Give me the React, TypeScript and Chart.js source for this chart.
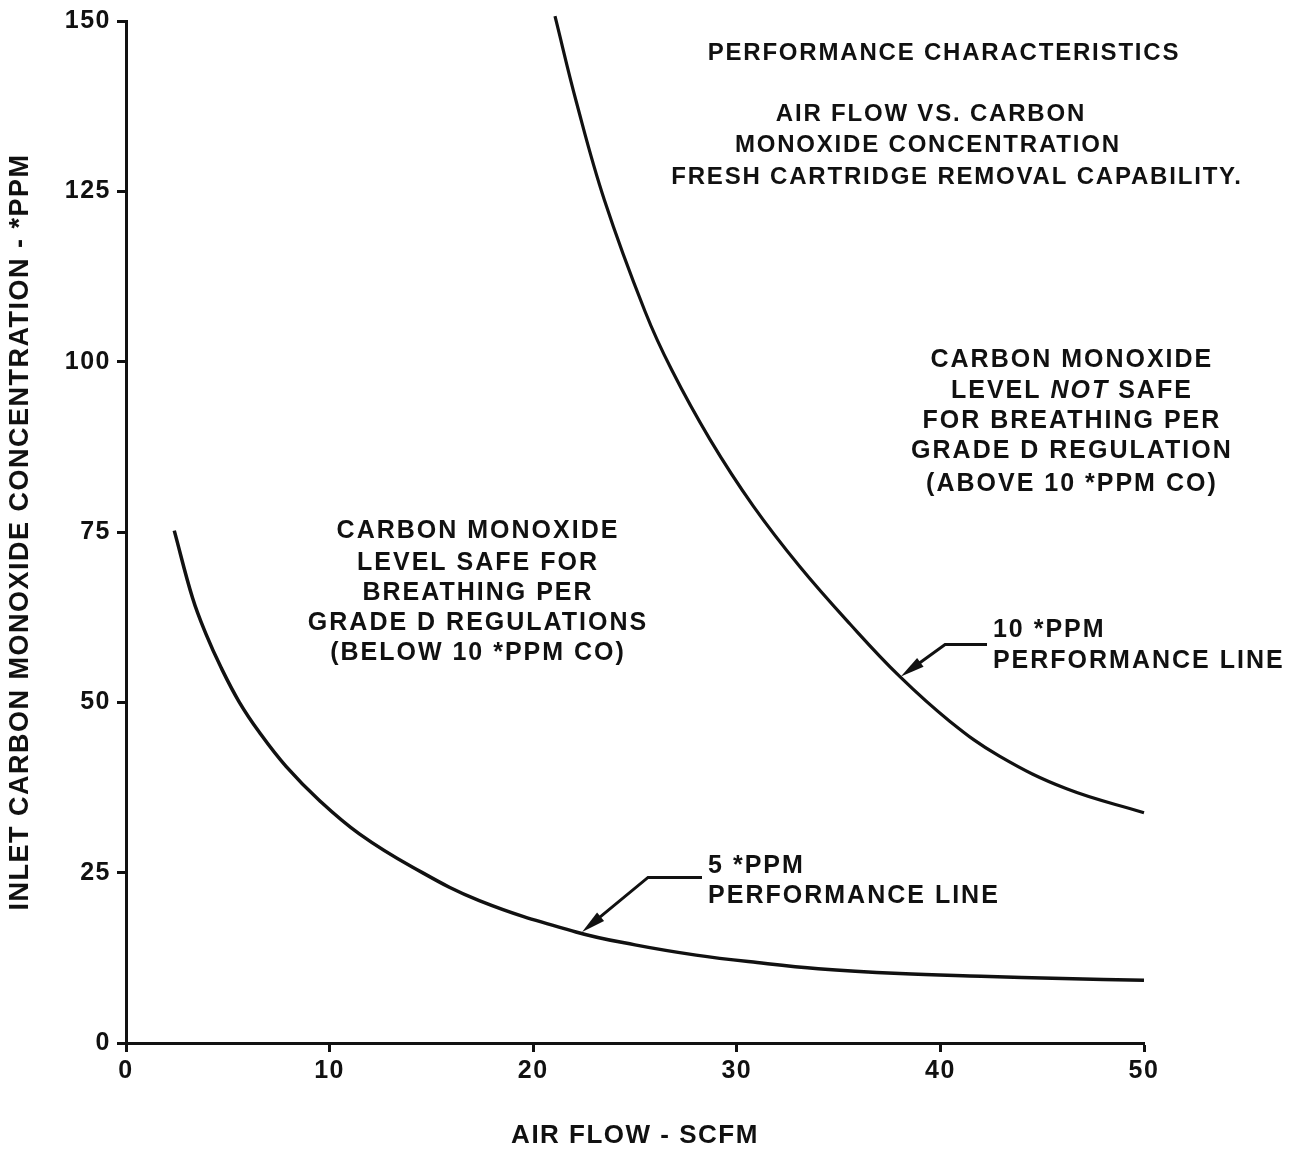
import React, { useEffect, useRef } from 'react';
import { Chart, registerables } from 'chart.js';

Chart.register(...registerables);

// ---- data ----
const xTickStep = 10;
const yTickStep = 25;
const xRange = [0, 50];
const yRange = [0, 150];

const line5ppmX = [2.37, 3.27, 3.93, 4.67, 5.57, 6.55, 7.86, 9.5, 11.46, 14.08, 17.35, 22.1, 25, 28, 31, 34, 38, 42, 46, 50];
const line5ppmY = [75.2, 65.3, 60.0, 55.1, 50.0, 45.6, 40.6, 35.6, 30.7, 25.8, 20.9, 16.3, 14.4, 12.9, 11.8, 10.9, 10.2, 9.8, 9.45, 9.2];

const line10ppmX = [21.07, 22.13, 23.5, 25.49, 26.8, 28.68, 30.81, 33.1, 35.56, 38.0, 40.47, 42.9, 46.2, 50];
const line10ppmY = [150.7, 138.0, 123.7, 107.4, 98.8, 88.6, 78.8, 69.9, 61.5, 53.8, 47.2, 42.1, 37.3, 33.8];

const xTitle = 'AIR FLOW - SCFM';
const yTitle = 'INLET CARBON MONOXIDE CONCENTRATION - *PPM';

// text blocks: lines, centre x / line y in data units; "_" marks italic parts
const titleLines = ['PERFORMANCE CHARACTERISTICS', 'AIR FLOW VS. CARBON', 'MONOXIDE CONCENTRATION', 'FRESH CARTRIDGE REMOVAL CAPABILITY.'];
const titleLineX = [40.13, 39.49, 39.34, 40.77];
const titleLineY = [145.3, 136.25, 131.7, 127.0];

const unsafeLines = ['CARBON MONOXIDE', 'LEVEL _NOT_ SAFE', 'FOR BREATHING PER', 'GRADE D REGULATION', '(ABOVE 10 *PPM CO)'];
const unsafeX = 46.41;
const unsafeLineY = [100.25, 95.7, 91.3, 86.8, 82.1];

const safeLines = ['CARBON MONOXIDE', 'LEVEL SAFE FOR', 'BREATHING PER', 'GRADE D REGULATIONS', '(BELOW 10 *PPM CO)'];
const safeX = 17.24;
const safeLineY = [75.1, 70.5, 66.1, 61.6, 57.2];

const callout5Lines = ['5 *PPM', 'PERFORMANCE LINE'];
const callout5TextX = 28.59;
const callout5TextY = [25.9, 21.5];
const callout5ArrowX = [28.29, 25.64, 22.4];
const callout5ArrowY = [24.3, 24.3, 16.3];

const callout10Lines = ['10 *PPM', 'PERFORMANCE LINE'];
const callout10TextX = 42.58;
const callout10TextY = [60.6, 56.05];
const callout10ArrowX = [42.29, 40.23, 38.06];
const callout10ArrowY = [58.5, 58.5, 53.8];

const INK = '#111111';
const FAMILY = '"Liberation Sans", Arial, Helvetica, sans-serif';

function drawTextLine(ctx: CanvasRenderingContext2D, text: string, x: number, y: number, size: number, spacing: number, align: 'center' | 'left') {
  const parts = text.split('_');
  ctx.save();
  (ctx as any).letterSpacing = spacing + 'px';
  ctx.textAlign = 'left';
  ctx.textBaseline = 'middle';
  ctx.fillStyle = INK;
  const fonts = parts.map((_, i) => `${i % 2 ? 'italic ' : ''}bold ${size}px ${FAMILY}`);
  const widths = parts.map((p, i) => {
    ctx.font = fonts[i];
    return ctx.measureText(p).width;
  });
  const total = widths.reduce((a, b) => a + b, 0) - spacing;
  let cx = align === 'center' ? x - total / 2 : x;
  parts.forEach((p, i) => {
    ctx.font = fonts[i];
    ctx.fillText(p, cx, y);
    cx += widths[i];
  });
  ctx.restore();
}

function drawArrow(ctx: CanvasRenderingContext2D, pts: number[][]) {
  const n = pts.length;
  const [tx, ty] = pts[n - 1];
  const [px, py] = pts[n - 2];
  const dx = tx - px;
  const dy = ty - py;
  const len = Math.hypot(dx, dy);
  const ux = dx / len;
  const uy = dy / len;
  const headLen = 24;
  const headHalf = 5.5;
  const bx = tx - ux * headLen;
  const by = ty - uy * headLen;
  ctx.save();
  ctx.strokeStyle = INK;
  ctx.fillStyle = INK;
  ctx.lineWidth = 3;
  ctx.lineJoin = 'miter';
  ctx.beginPath();
  ctx.moveTo(pts[0][0], pts[0][1]);
  for (let i = 1; i < n - 1; i++) ctx.lineTo(pts[i][0], pts[i][1]);
  ctx.lineTo(bx + ux * 4, by + uy * 4);
  ctx.stroke();
  ctx.beginPath();
  ctx.moveTo(tx, ty);
  ctx.lineTo(bx - uy * headHalf, by + ux * headHalf);
  ctx.lineTo(bx + uy * headHalf, by - ux * headHalf);
  ctx.closePath();
  ctx.fill();
  ctx.restore();
}

const annotationPlugin = {
  id: 'annotations',
  beforeDraw(chart: any) {
    (chart.ctx as any).letterSpacing = '1.5px';
  },
  afterDraw(chart: any) {
    const ctx: CanvasRenderingContext2D = chart.ctx;
    const xs = chart.scales.x;
    const ys = chart.scales.y;
    const px = (v: number) => xs.getPixelForValue(v);
    const py = (v: number) => ys.getPixelForValue(v);

    titleLines.forEach((t, i) => drawTextLine(ctx, t, px(titleLineX[i]), py(titleLineY[i]), 24, 1.8, 'center'));
    unsafeLines.forEach((t, i) => drawTextLine(ctx, t, px(unsafeX), py(unsafeLineY[i]), 25, 2, 'center'));
    safeLines.forEach((t, i) => drawTextLine(ctx, t, px(safeX), py(safeLineY[i]), 25, 2, 'center'));
    callout5Lines.forEach((t, i) => drawTextLine(ctx, t, px(callout5TextX), py(callout5TextY[i]), 25, 2, 'left'));
    callout10Lines.forEach((t, i) => drawTextLine(ctx, t, px(callout10TextX), py(callout10TextY[i]), 25, 2, 'left'));

    drawArrow(ctx, callout5ArrowX.map((x, i) => [px(x), py(callout5ArrowY[i])]));
    drawArrow(ctx, callout10ArrowX.map((x, i) => [px(x), py(callout10ArrowY[i])]));
  },
};

export default function App() {
  const canvasRef = useRef<HTMLCanvasElement | null>(null);

  useEffect(() => {
    const canvas = canvasRef.current;
    if (!canvas) return;
    const chart = new Chart(canvas, {
      type: 'line',
      data: {
        datasets: [
          {
            label: '5 *PPM PERFORMANCE LINE',
            data: line5ppmX.map((x, i) => ({ x, y: line5ppmY[i] })),
            borderColor: INK,
            borderWidth: 3.5,
            pointRadius: 0,
            tension: 0.4,
            fill: false,
            clip: 8,
          },
          {
            label: '10 *PPM PERFORMANCE LINE',
            data: line10ppmX.map((x, i) => ({ x, y: line10ppmY[i] })),
            borderColor: INK,
            borderWidth: 3.2,
            pointRadius: 0,
            tension: 0.4,
            fill: false,
            clip: 8,
          },
        ],
      },
      options: {
        animation: false,
        responsive: false,
        maintainAspectRatio: false,
        layout: { padding: { left: 0, top: 18, right: 154, bottom: 0 } },
        plugins: { legend: { display: false }, tooltip: { enabled: false } },
        scales: {
          x: {
            type: 'linear',
            min: xRange[0],
            max: xRange[1],
            ticks: { stepSize: xTickStep, color: INK, padding: 4, font: { family: FAMILY, size: 25, weight: 'bold' } },
            grid: { drawOnChartArea: false, drawTicks: true, tickLength: 9, tickWidth: 3, tickColor: INK, color: INK },
            border: { display: true, color: INK, width: 3 },
            title: { display: true, text: xTitle, color: INK, padding: 0, font: { family: FAMILY, size: 26, weight: 'bold' } },
            afterFit: (s: any) => { s.height = 108; },
          },
          y: {
            type: 'linear',
            min: yRange[0],
            max: yRange[1],
            ticks: { stepSize: yTickStep, color: INK, padding: 6, font: { family: FAMILY, size: 25, weight: 'bold' } },
            grid: { drawOnChartArea: false, drawTicks: true, tickLength: 9, tickWidth: 3, tickColor: INK, color: INK },
            border: { display: true, color: INK, width: 3 },
            title: { display: true, text: yTitle, color: INK, padding: 4, font: { family: FAMILY, size: 27, weight: 'bold' } },
            afterFit: (s: any) => { s.width = 126; },
          },
        },
      },
      plugins: [annotationPlugin],
    } as any);
    return () => chart.destroy();
  }, []);

  return (
    <div style={{ position: 'absolute', left: 0, top: 0, width: 1298, height: 1151, background: '#fff' }}>
      <canvas ref={canvasRef} width={1298} height={1151} style={{ display: 'block', width: 1298, height: 1151 }} />
    </div>
  );
}
